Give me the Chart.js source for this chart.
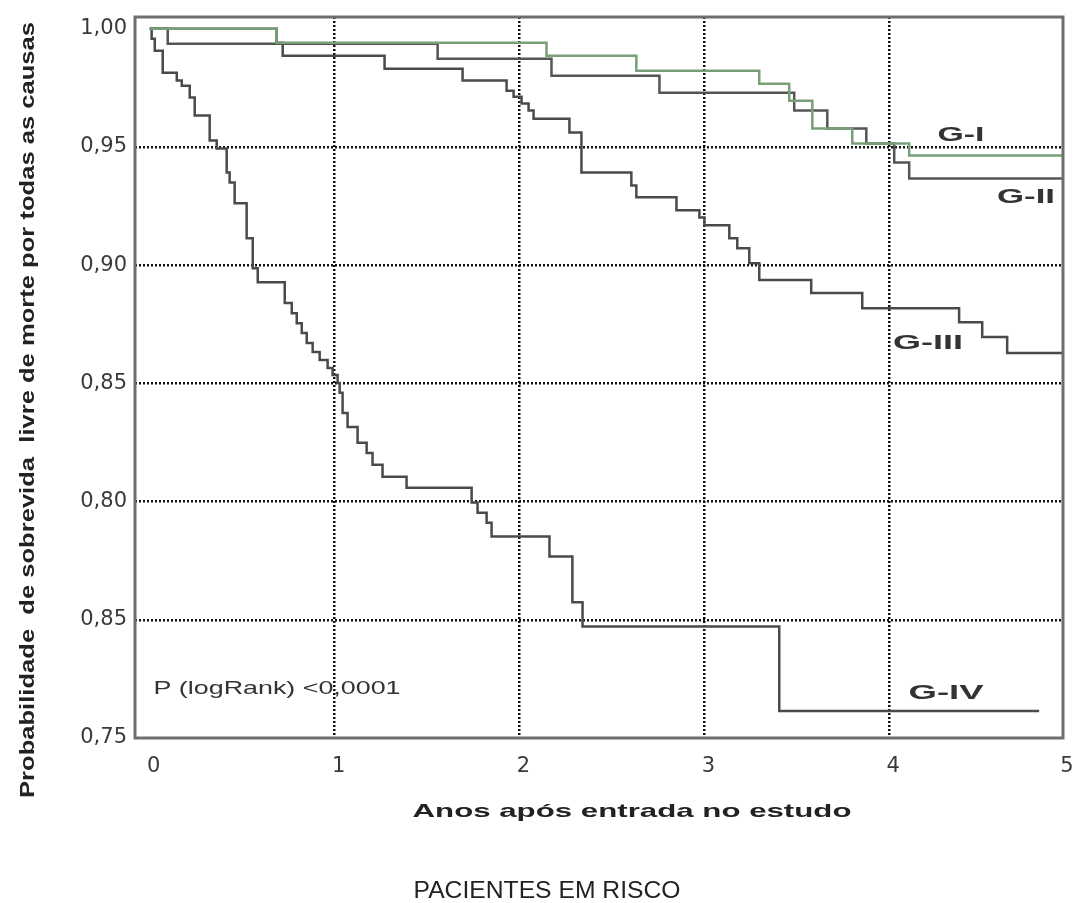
<!DOCTYPE html>
<html>
<head>
<meta charset="utf-8">
<script src="https://cdn.jsdelivr.net/npm/chart.js@4"></script>
<style>
  html, body { margin: 0; padding: 0; background: #fff; }
  #wrap { width: 1080px; height: 903px; position: relative; }
</style>
</head>
<body>
<div id="wrap"><canvas id="chart1"></canvas></div>
<script>
// axis ticks
const xTickValues = [0, 1, 2, 3, 4, 4.94];
const xTickLabels = ['0', '1', '2', '3', '4', '5'];
const yTickValues = [0.70, 0.75, 0.80, 0.85, 0.90, 0.95, 1.00];
const yTickLabels = ['0,75', '0,85', '0,80', '0,85', '0,90', '0,95', '1,00'];

// G-I (green)
const g1Years = [0, 0.686, 2.146, 2.632, 3.297, 3.459, 3.584, 3.800, 4.108, 4.94];
const g1Surv  = [1.000, 0.9941, 0.9886, 0.9823, 0.9768, 0.9696, 0.9578, 0.9515, 0.9464, 0.9464];

// G-II
const g2Years = [0, 0.097, 1.557, 2.173, 2.757, 3.486, 3.665, 3.876, 4.027, 4.108, 4.94];
const g2Surv  = [1.000, 0.9937, 0.9873, 0.9802, 0.9730, 0.9654, 0.9578, 0.9515, 0.9435, 0.9367, 0.9367];

// G-III
const g3Years = [0, 0.686, 0.719, 1.270, 1.692, 1.930, 1.968, 2.011, 2.049, 2.076, 2.270, 2.335,
                 2.605, 2.632, 2.849, 2.973, 3.000, 3.135, 3.178, 3.243, 3.297, 3.578, 3.854,
                 4.378, 4.503, 4.638, 4.94];
const g3Surv  = [1.000, 0.9941, 0.9886, 0.9831, 0.9781, 0.9738, 0.9713, 0.9684, 0.9654, 0.9620, 0.9561, 0.9392,
                 0.9337, 0.9287, 0.9232, 0.9202, 0.9169, 0.9114, 0.9072, 0.9008, 0.8937, 0.8882, 0.8818,
                 0.8759, 0.8696, 0.8629, 0.8629];

// G-IV
const g4Years = [0, 0.010, 0.027, 0.070, 0.146, 0.173, 0.216, 0.243, 0.324, 0.362, 0.416, 0.432, 0.459,
                 0.524, 0.557, 0.584, 0.730, 0.768, 0.795, 0.822, 0.849, 0.881, 0.919, 0.962, 0.989,
                 1.016, 1.027, 1.043, 1.070, 1.124, 1.173, 1.205, 1.259, 1.389, 1.741, 1.773, 1.822,
                 1.849, 2.162, 2.286, 2.341, 3.405, 4.811];
const g4Surv  = [1.000, 0.9958, 0.9907, 0.9814, 0.9781, 0.9759, 0.9709, 0.9633, 0.9528, 0.9494, 0.9392, 0.9350, 0.9262,
                 0.9114, 0.8987, 0.8928, 0.8840, 0.8797, 0.8755, 0.8713, 0.8671, 0.8633, 0.8599, 0.8565, 0.8536,
                 0.8502, 0.8460, 0.8375, 0.8316, 0.8249, 0.8206, 0.8156, 0.8105, 0.8059, 0.7996, 0.7953, 0.7911,
                 0.7852, 0.7768, 0.7574, 0.7472, 0.7114, 0.7114];

function toPoints(xs, ys) {
    return xs.map((x, i) => ({ x: x, y: ys[i] }));
}

function curve(label, xs, ys, color) {
    return {
        label: label,
        data: toPoints(xs, ys),
        borderColor: color,
        borderWidth: 2.5,
        pointRadius: 0,
        stepped: 'before',
        fill: false
    };
}

// text squeezed/stretched to the width it has in the picture
function fitText(ctx, text, x, y, w, font, color, rot) {
    ctx.save();
    ctx.font = font;
    ctx.fillStyle = color;
    ctx.textAlign = 'center';
    ctx.textBaseline = 'middle';
    const m = ctx.measureText(text).width;
    ctx.translate(x, y);
    if (rot) ctx.rotate(rot);
    ctx.scale(w / m, 1);
    ctx.fillText(text, 0, 0);
    ctx.restore();
}

const frameAndText = {
    id: 'frameAndText',
    afterDraw(chart) {
        const { ctx, chartArea: a } = chart;
        ctx.save();
        ctx.strokeStyle = '#6e6e6e';
        ctx.lineWidth = 3;
        ctx.strokeRect(a.left, a.top, a.right - a.left, a.bottom - a.top);
        ctx.restore();

        const sans = '"Liberation Sans", Arial, sans-serif';
        fitText(ctx, 'G-I', 961, 135, 47, 'bold 21px ' + sans, '#333');
        fitText(ctx, 'G-II', 1026, 197, 58, 'bold 21px ' + sans, '#333');
        fitText(ctx, 'G-III', 928, 343, 70, 'bold 21px ' + sans, '#333');
        fitText(ctx, 'G-IV', 946, 693, 75, 'bold 21px ' + sans, '#333');
        fitText(ctx, 'P (logRank) <0,0001', 277, 689, 247, '19px ' + sans, '#333');
        fitText(ctx, 'Anos após entrada no estudo', 632, 812, 439, 'bold 19px ' + sans, '#222');
        fitText(ctx, 'PACIENTES EM RISCO', 547, 891, 267, '24px ' + sans, '#222');
        fitText(ctx, 'Probabilidade  de sobrevida  livre de morte por todas as causas', 28, 410, 776,
                'bold 20px ' + sans, '#222', -Math.PI / 2);
    }
};

const ctx1 = document.getElementById('chart1').getContext('2d');
new Chart(ctx1, {
    type: 'line',
    data: {
        datasets: [
            curve('G-I', g1Years, g1Surv, 'rgb(120,160,120)'),
            curve('G-II', g2Years, g2Surv, '#555'),
            curve('G-III', g3Years, g3Surv, '#4a4a4a'),
            curve('G-IV', g4Years, g4Surv, '#4a4a4a')
        ]
    },
    options: {
        responsive: true,
        maintainAspectRatio: false,
        animation: false,
        layout: { padding: { top: 17, right: 17, left: 0, bottom: 0 } },
        plugins: {
            legend: { display: false },
            tooltip: { enabled: false }
        },
        scales: {
            x: {
                type: 'linear',
                min: -0.08,
                max: 4.94,
                afterBuildTicks: s => { s.ticks = xTickValues.map(v => ({ value: v })); },
                afterFit: s => {
                    s.height = 165;
                    s.paddingLeft = 0;
                    s.paddingRight = 0;
                },
                ticks: {
                    padding: 16,
                    labelOffset: 4,
                    color: '#3a3a3a',
                    font: { family: 'DejaVu Sans', size: 21 },
                    callback: (v, i) => xTickLabels[i]
                },
                grid: {
                    drawTicks: false,
                    lineWidth: 2.5,
                    color: c => (c.tick && c.tick.value >= 1 && c.tick.value <= 4) ? '#111' : 'rgba(0,0,0,0)'
                },
                border: { display: false, dash: [2, 2] }
            },
            y: {
                type: 'linear',
                min: 0.70,
                max: 1.005,
                afterBuildTicks: s => { s.ticks = yTickValues.map(v => ({ value: v })); },
                afterFit: s => {
                    s.width = 135;
                    s.paddingTop = 0;
                    s.paddingBottom = 0;
                },
                ticks: {
                    padding: 8,
                    color: '#3a3a3a',
                    font: { family: 'DejaVu Sans', size: 21 },
                    callback: (v, i) => yTickLabels[i]
                },
                grid: {
                    drawTicks: false,
                    lineWidth: 2.5,
                    color: c => (c.tick && c.tick.value > 0.72 && c.tick.value < 0.98) ? '#111' : 'rgba(0,0,0,0)'
                },
                border: { display: false, dash: [2, 2] }
            }
        }
    },
    plugins: [frameAndText]
});
</script>
</body>
</html>
